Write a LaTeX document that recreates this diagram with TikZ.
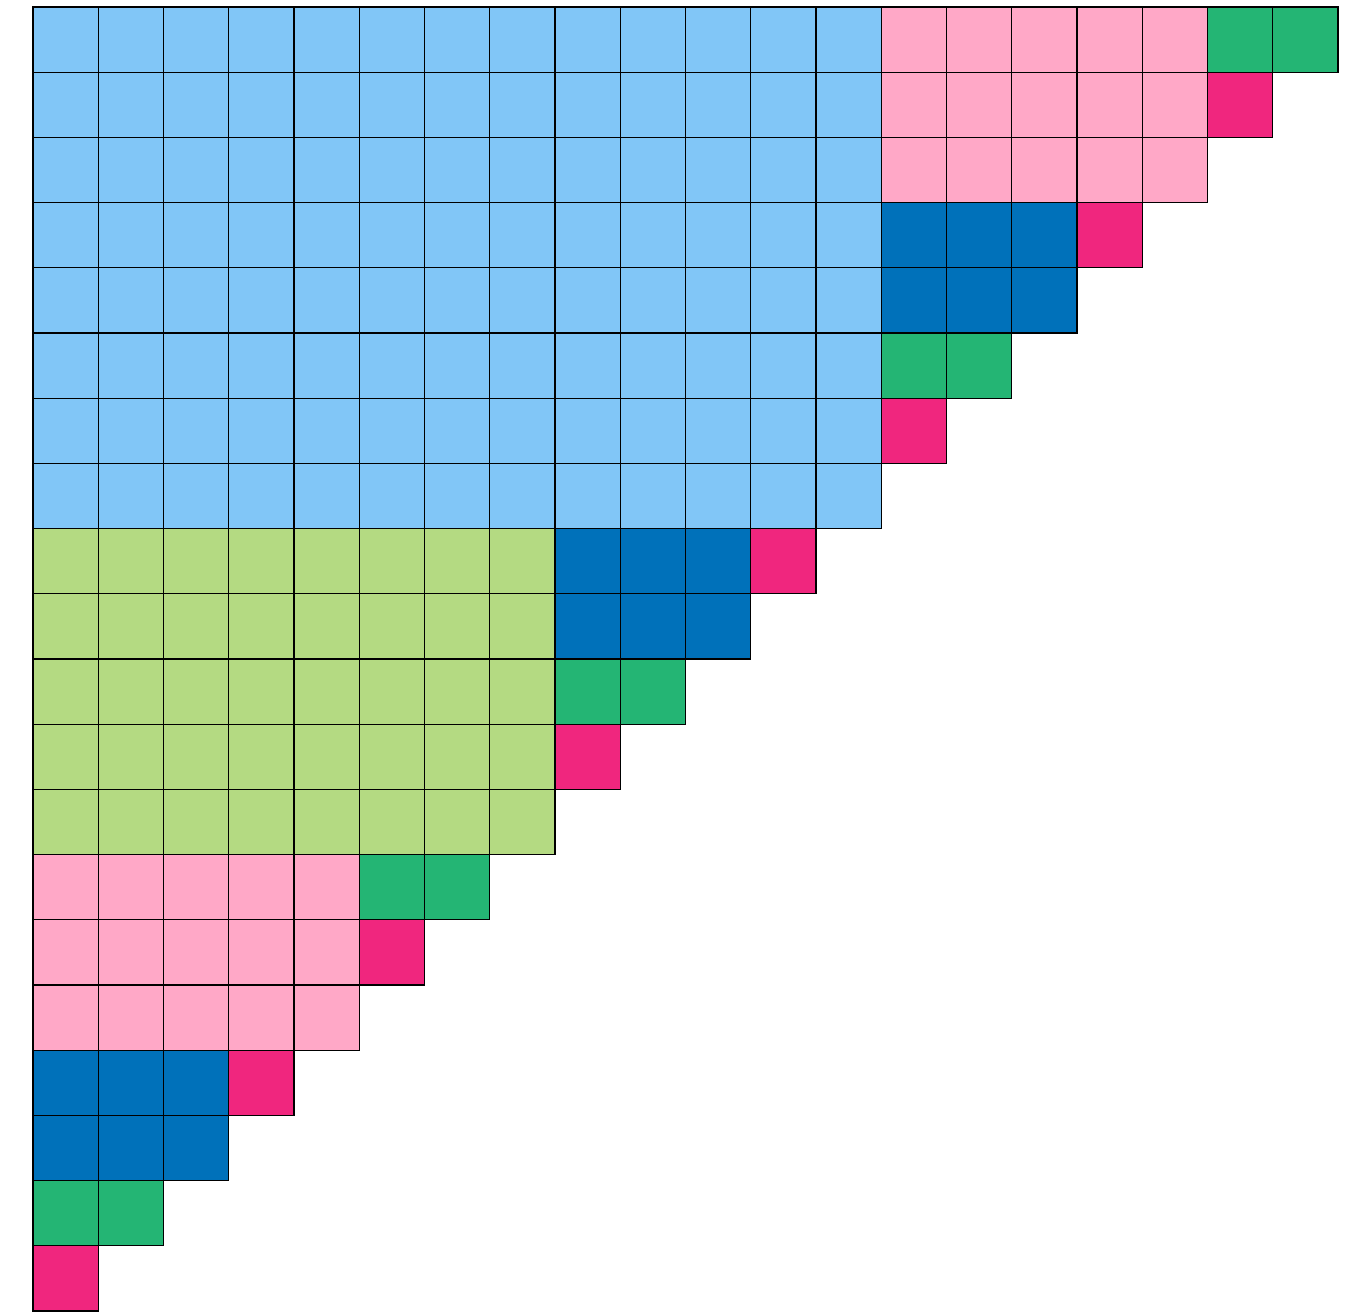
\documentclass[tikz,border=0pt]{standalone}
\definecolor{lblue}{HTML}{81C6F7}
\definecolor{pinkc}{HTML}{FFA8C7}
\definecolor{dblue}{HTML}{0071BA}
\definecolor{greenc}{HTML}{24B574}
\definecolor{magc}{HTML}{F0267E}
\definecolor{lgreen}{HTML}{B4DA82}
\tikzset{cellst/.style={draw=black, line width=0.75pt}}
\newcommand\myblk[5]{%
  \foreach \i in {1,...,#3}{%
    \foreach \j in {1,...,#4}{%
      \draw[cellst, fill=#5] ({33+65.25*(#1+\i-1)},{7+65.2*(#2+\j-1)}) rectangle ++(65.25,65.2);
    }%
  }%
}
\begin{document}
\begin{tikzpicture}[x=0.02cm, y=-0.02cm]
\useasboundingbox (0,0) rectangle (1359,1312);
% large blocks
\myblk{0}{0}{13}{8}{lblue}
\myblk{13}{0}{5}{3}{pinkc}
\myblk{18}{0}{2}{1}{greenc}
\myblk{18}{1}{1}{1}{magc}
\myblk{13}{3}{3}{2}{dblue}
\myblk{16}{3}{1}{1}{magc}
\myblk{13}{5}{2}{1}{greenc}
\myblk{13}{6}{1}{1}{magc}
\myblk{0}{8}{8}{5}{lgreen}
\myblk{8}{8}{3}{2}{dblue}
\myblk{11}{8}{1}{1}{magc}
\myblk{8}{10}{2}{1}{greenc}
\myblk{8}{11}{1}{1}{magc}
\myblk{0}{13}{5}{3}{pinkc}
\myblk{5}{13}{2}{1}{greenc}
\myblk{5}{14}{1}{1}{magc}
\myblk{0}{16}{3}{2}{dblue}
\myblk{3}{16}{1}{1}{magc}
\myblk{0}{18}{2}{1}{greenc}
\myblk{0}{19}{1}{1}{magc}
\end{tikzpicture}
\end{document}
